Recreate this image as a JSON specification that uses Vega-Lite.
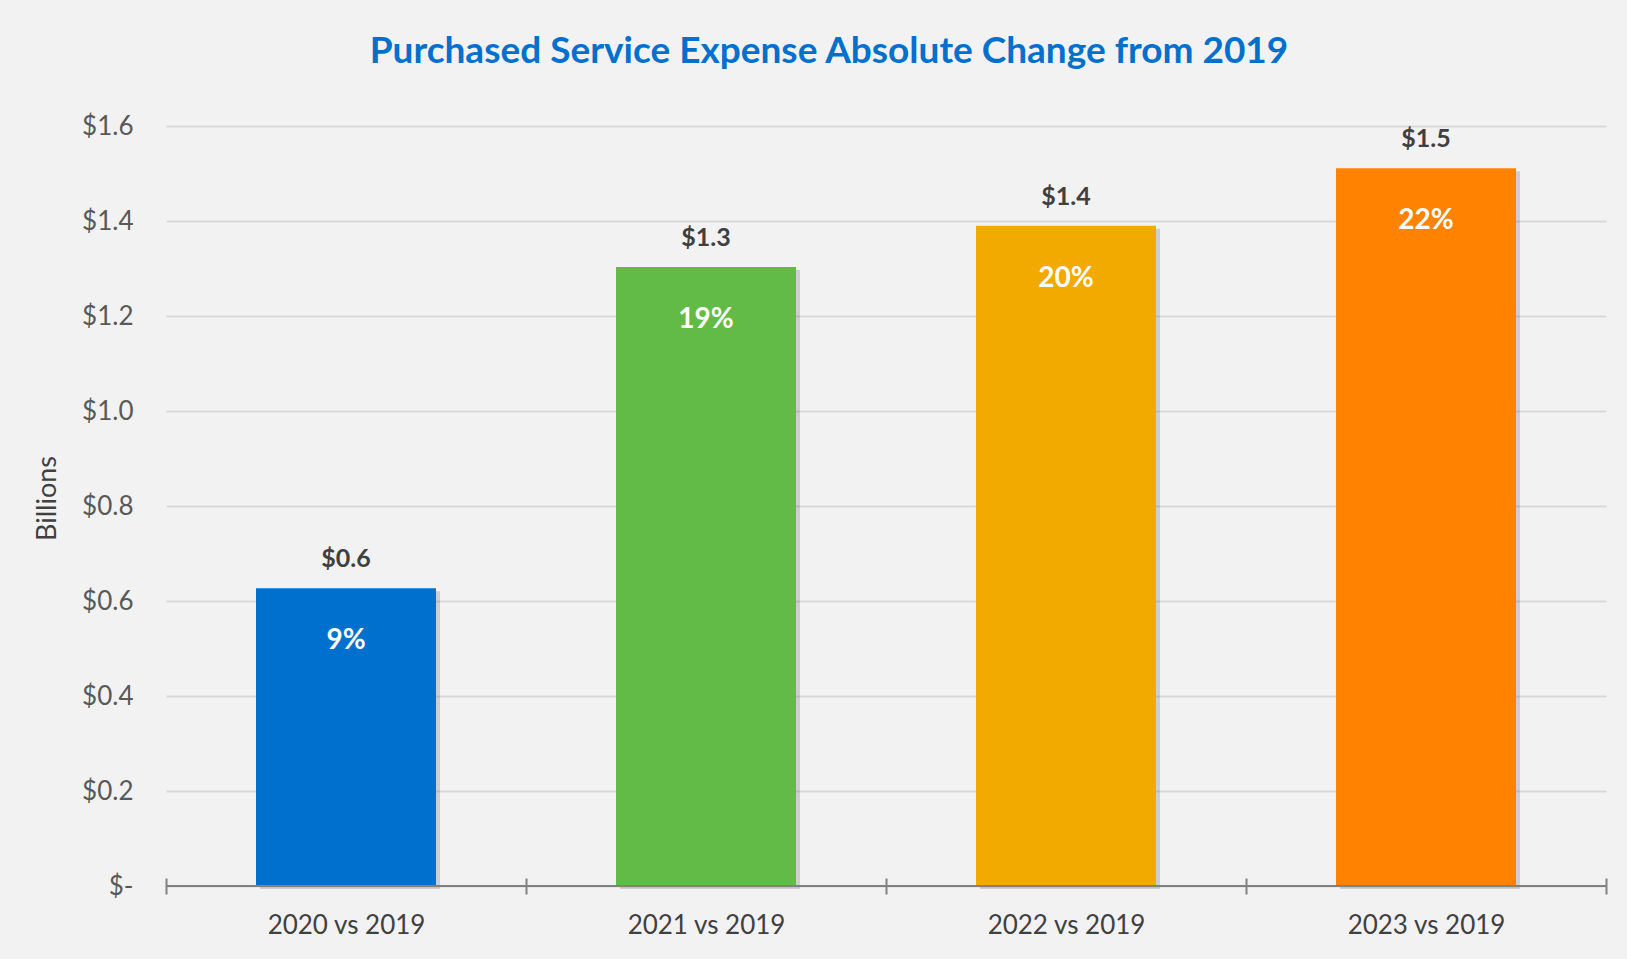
{
  "$schema": "https://vega.github.io/schema/vega-lite/v6.json",
  "width": 1440,
  "height": 760,
  "autosize": {"type": "none"},
  "padding": {"left": 166, "top": 126, "right": 21, "bottom": 73},
  "background": "#f2f2f2",
  "config": {"view": {"stroke": null}, "font": "Lato"},
  "title": {
    "text": "Purchased Service Expense Absolute Change from 2019",
    "fontSize": 37,
    "font": "Lato",
    "fontWeight": "bold",
    "color": "#0070CC",
    "anchor": "middle",
    "dx": -57,
    "offset": 42
  },
  "data": {
    "values": [
      {"period": "2020 vs 2019", "value": 0.627, "label": "$0.6", "pct": "9%"},
      {"period": "2021 vs 2019", "value": 1.303, "label": "$1.3", "pct": "19%"},
      {"period": "2022 vs 2019", "value": 1.39, "label": "$1.4", "pct": "20%"},
      {"period": "2023 vs 2019", "value": 1.511, "label": "$1.5", "pct": "22%"}
    ]
  },
  "layer": [
    {
      "mark": {"type": "bar", "color": "#000000", "opacity": 0.15, "xOffset": 4, "yOffset": 3, "width": {"band": 0.5}},
      "encoding": {
        "x": {
          "field": "period", "type": "nominal", "sort": null,
          "scale": {"paddingInner": 0, "paddingOuter": 0},
          "axis": {
            "title": null,
            "domain": false,
            "tickBand": "extent",
            "tickSize": 16,
            "offset": -8,
            "tickColor": "#808080",
            "tickWidth": 2,
            "labelPadding": 18,
            "labelFontSize": 26,
            "labelColor": "#404040",
            "labelAngle": 0,
            "grid": false
          }
        },
        "y": {
          "field": "value", "type": "quantitative",
          "scale": {"domain": [0, 1.6], "nice": false},
          "axis": {
            "title": "Billions",
            "titleFontSize": 27,
            "titleFontWeight": "normal",
            "titleColor": "#404040",
            "titleX": -119,
            "titleY": 372,
            "titleAngle": -90,
            "titleAlign": "center",
            "titleBaseline": "middle",
            "values": [0, 0.2, 0.4, 0.6, 0.8, 1.0, 1.2, 1.4, 1.6],
            "labelExpr": "datum.value == 0 ? '$-' : '$' + format(datum.value, '.1f')",
            "labelFontSize": 26,
            "labelColor": "#595959",
            "labelPadding": 33,
            "ticks": false,
            "domain": false,
            "grid": true,
            "gridColor": "#d9d9d9",
            "gridWidth": 2
          }
        }
      }
    },
    {
      "mark": {"type": "bar", "width": {"band": 0.5}},
      "encoding": {
        "x": {"field": "period", "type": "nominal", "sort": null},
        "y": {"field": "value", "type": "quantitative"},
        "color": {
          "field": "period", "type": "nominal", "sort": null,
          "scale": {"range": ["#0070CE", "#62BB46", "#F2A900", "#FF8300"]},
          "legend": null
        }
      }
    },
    {
      "mark": {"type": "rule", "color": "#808080", "strokeWidth": 2},
      "encoding": {"y": {"datum": 0}}
    },
    {
      "mark": {"type": "text", "fontSize": 25, "fontWeight": "bold", "color": "#404040", "baseline": "middle", "dy": -29},
      "encoding": {
        "x": {"field": "period", "type": "nominal", "sort": null},
        "y": {"field": "value", "type": "quantitative"},
        "text": {"field": "label"}
      }
    },
    {
      "mark": {"type": "text", "fontSize": 28, "fontWeight": "bold", "color": "#ffffff", "baseline": "middle", "dy": 53},
      "encoding": {
        "x": {"field": "period", "type": "nominal", "sort": null},
        "y": {"field": "value", "type": "quantitative"},
        "text": {"field": "pct"}
      }
    }
  ]
}
